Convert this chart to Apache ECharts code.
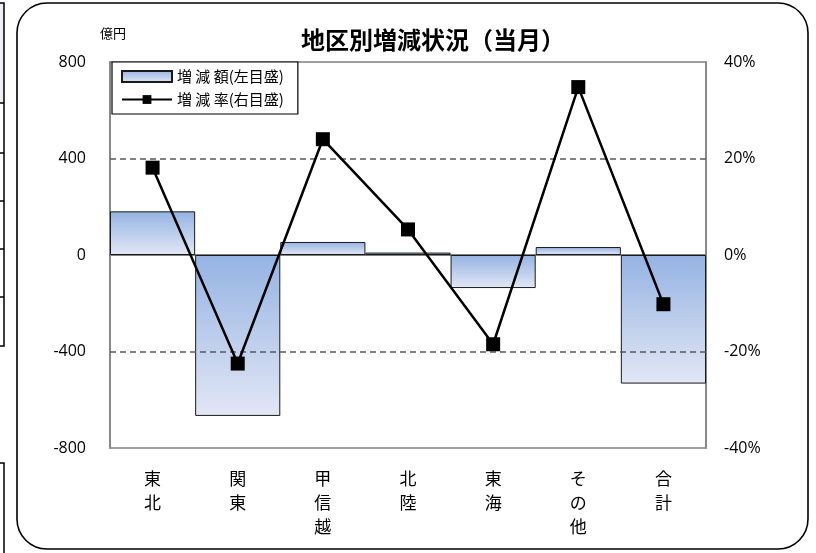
<!DOCTYPE html>
<html>
<head>
<meta charset="utf-8">
<script src="https://cdn.jsdelivr.net/npm/echarts@6/dist/echarts.min.js"></script>
<style>
html,body{margin:0;padding:0;background:#fff;}
#main{width:816px;height:553px;}
</style>
</head>
<body>
<div id="main"></div>
<script>
const categories = ['東北', '関東', '甲信越', '北陸', '東海', 'その他', '合計'];
const amountValues = [181, -667, 54, 10, -137, 33, -533];
const rateValues = [18.1, -22.5, 24.0, 5.3, -18.5, 34.8, -10.2];
const leftTicks = { min: -800, max: 800, interval: 400 };
const rightTicks = { min: -40, max: 40, interval: 20 };
const amountName = '増 減 額(左目盛)';
const rateName = '増 減 率(右目盛)';
const titleText = '地区別増減状況（当月）';
const unitText = '億円';

const chart = echarts.init(document.getElementById('main'));
const jp = '"Noto Sans CJK JP", "Noto Sans", sans-serif';
const num = '"Open Sans", "Noto Sans", sans-serif';

const option = {
  animation: false,
  backgroundColor: '#fff',
  title: {
    text: titleText,
    left: 428, top: 23, textAlign: 'center',
    textStyle: { fontFamily: jp, fontSize: 24, fontWeight: 'bold', color: '#000' }
  },
  legend: {
    left: 112, top: 62, orient: 'vertical',
    padding: [7, 14, 7, 9], itemGap: 8,
    itemWidth: 50, itemHeight: 11,
    backgroundColor: '#fff', borderColor: '#000', borderWidth: 1.2,
    textStyle: { fontFamily: jp, fontSize: 15, color: '#000' },
    data: [{ name: amountName, icon: 'rect' }, { name: rateName }]
  },
  grid: { left: 110, right: 110, top: 62, bottom: 105, show: true, borderColor: '#808080', borderWidth: 1.5 },
  xAxis: {
    type: 'category', data: categories,
    axisLine: { show: true, onZero: true, lineStyle: { color: '#808080', width: 2 } },
    axisTick: { show: false },
    axisLabel: {
      interval: 0, margin: 19, fontFamily: jp, fontSize: 17, color: '#000', lineHeight: 24,
      verticalAlign: 'top',
      formatter: v => v.split('').join('\n')
    },
    position: 'bottom'
  },
  yAxis: [
    {
      type: 'value', min: leftTicks.min, max: leftTicks.max, interval: leftTicks.interval,
      axisLine: { show: true, lineStyle: { color: '#808080', width: 1.5 } },
      axisTick: { show: false }, splitLine: { show: false },
      axisLabel: { margin: 24, fontFamily: num, fontSize: 16, color: '#000' }
    },
    {
      type: 'value', min: rightTicks.min, max: rightTicks.max, interval: rightTicks.interval,
      axisLine: { show: true, lineStyle: { color: '#808080', width: 1.5 } },
      axisTick: { show: false }, splitLine: { show: false },
      axisLabel: { margin: 18, fontFamily: num, fontSize: 16, color: '#000', formatter: '{value}%' }
    }
  ],
  series: [
    {
      name: amountName, type: 'bar', yAxisIndex: 0, data: amountValues,
      barCategoryGap: '0%',
      itemStyle: {
        color: new echarts.graphic.LinearGradient(0, 0, 0, 1, [
          { offset: 0, color: '#95b3e3' }, { offset: 1, color: '#e2e7f5' }
        ]),
        borderColor: '#1a1a1a', borderWidth: 1
      },
      markLine: {
        silent: true, symbol: 'none', label: { show: false },
        lineStyle: { color: '#595959', type: [6, 4], width: 1.5 },
        data: [{ yAxis: 400 }, { yAxis: -400 }]
      },
      z: 2
    },
    {
      name: rateName, type: 'line', yAxisIndex: 1, data: rateValues,
      symbol: 'rect', symbolSize: 14,
      lineStyle: { color: '#000', width: 2.5 },
      itemStyle: { color: '#000' },
      z: 5
    }
  ],
  graphic: [
    { type: 'rect', shape: { x: 17, y: 3, width: 791, height: 546, r: 30 },
      style: { fill: 'none', stroke: '#000', lineWidth: 1.6 }, z: 100 },
    { type: 'text', left: 100, top: 27, style: { text: unitText, font: '13px ' + jp, fill: '#000' }, z: 100 },
    { type: 'rect', shape: { x: -2, y: 3, width: 6, height: 100 }, style: { fill: '#eeeef8', stroke: 'none' }, z: 99 },
    { type: 'polyline', shape: { points: [[0, 3], [4, 3], [4, 346], [0, 346]] }, style: { stroke: '#000', lineWidth: 1.5, fill: 'none' }, z: 100 },
    { type: 'line', shape: { x1: 0, y1: 103, x2: 4, y2: 103 }, style: { stroke: '#000', lineWidth: 1.5 }, z: 100 },
    { type: 'line', shape: { x1: 0, y1: 153, x2: 4, y2: 153 }, style: { stroke: '#000', lineWidth: 1.5 }, z: 100 },
    { type: 'line', shape: { x1: 0, y1: 201, x2: 4, y2: 201 }, style: { stroke: '#000', lineWidth: 1.5 }, z: 100 },
    { type: 'line', shape: { x1: 0, y1: 249, x2: 4, y2: 249 }, style: { stroke: '#000', lineWidth: 1.5 }, z: 100 },
    { type: 'line', shape: { x1: 0, y1: 297, x2: 4, y2: 297 }, style: { stroke: '#000', lineWidth: 1.5 }, z: 100 },
    { type: 'polyline', shape: { points: [[0, 463], [4, 463], [4, 553]] }, style: { stroke: '#000', lineWidth: 1.5, fill: 'none' }, z: 100 }
  ]
};
chart.setOption(option);
</script>
</body>
</html>
